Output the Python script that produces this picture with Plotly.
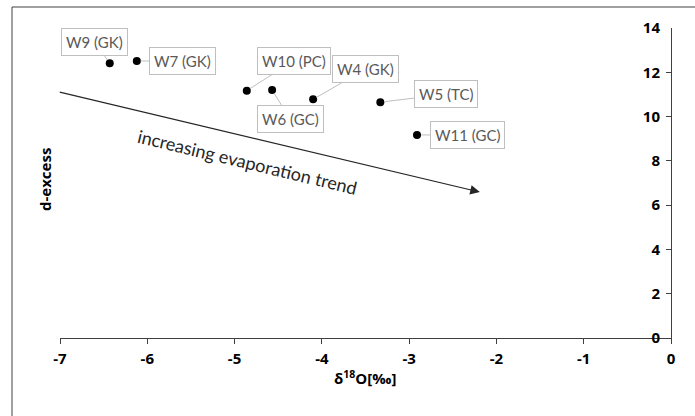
import plotly.graph_objects as go

# ---- data ----
labels = ["W9 (GK)", "W7 (GK)", "W10 (PC)", "W6 (GC)", "W4 (GK)", "W5 (TC)", "W11 (GC)"]
d18O = [-6.43, -6.12, -4.86, -4.57, -4.10, -3.33, -2.91]
dexcess = [12.41, 12.51, 11.17, 11.20, 10.78, 10.65, 9.17]
x_ticks = [-7, -6, -5, -4, -3, -2, -1, 0]
y_ticks = [0, 2, 4, 6, 8, 10, 12, 14]
trend_start = (-7.02, 11.12)
trend_end = (-2.19, 6.59)
trend_text = "increasing evaporation trend"

# label box offsets (pixels) relative to the points
offsets = {
    "W9 (GK)": (-15, -21),
    "W7 (GK)": (46, 0),
    "W10 (PC)": (47, -30),
    "W6 (GC)": (18, 29),
    "W4 (GK)": (52, -30),
    "W5 (TC)": (66, -8),
    "W11 (GC)": (50, 0),
}

W, H = 695, 416
L, R, T, B = 60, 24, 28, 78
px0, px1 = L, W - R
py0, py1 = T, H - B

def paper_x(px):
    return (px - px0) / (px1 - px0)

def paper_y(py):
    return (py1 - py) / (py1 - py0)

FONT = "Lato"
BFONT = "Open Sans"

fig = go.Figure()
fig.add_trace(go.Scatter(
    x=d18O, y=dexcess, mode="markers",
    marker=dict(color="black", size=8),
    showlegend=False, hoverinfo="skip",
))

annotations = []
for lab, xv, yv in zip(labels, d18O, dexcess):
    ax, ay = offsets[lab]
    annotations.append(dict(
        x=xv, y=yv, xref="x", yref="y", text=lab, showarrow=True,
        ax=ax, ay=ay, arrowhead=0, arrowwidth=1, arrowcolor="#BFBFBF",
        standoff=4, font=dict(family=FONT, size=15, color="#595959"),
        bgcolor="white", bordercolor="#BFBFBF", borderwidth=1, borderpad=4,
    ))

# trend arrow
annotations.append(dict(
    x=trend_end[0], y=trend_end[1], ax=trend_start[0], ay=trend_start[1],
    xref="x", yref="y", axref="x", ayref="y", text=" ", showarrow=True,
    arrowhead=2, arrowsize=1.6, arrowwidth=1.2, arrowcolor="#262626",
    font=dict(size=1),
))
annotations.append(dict(
    x=-4.85, y=7.95, xref="x", yref="y", text=trend_text, showarrow=False,
    textangle=13.5, font=dict(family=FONT, size=18, color="#262626"),
))

# axis titles
annotations.append(dict(
    x=paper_x(365), y=paper_y(378), xref="paper", yref="paper",
    xanchor="center", yanchor="middle",
    text="<b>δ<sup>18</sup>O[‰]</b>", showarrow=False,
    font=dict(family=BFONT, size=15, color="black"),
))
annotations.append(dict(
    x=paper_x(45), y=paper_y(180), xref="paper", yref="paper",
    xanchor="center", yanchor="middle",
    text="<b>d-excess</b>", showarrow=False, textangle=-90,
    font=dict(family=BFONT, size=15, color="black"),
))

shapes = [dict(
    type="rect", xref="paper", yref="paper",
    x0=paper_x(12), x1=paper_x(720), y0=paper_y(440), y1=paper_y(7),
    line=dict(color="#404040", width=1), fillcolor="rgba(0,0,0,0)", layer="below",
)]

fig.update_layout(
    width=W, height=H,
    margin=dict(l=L, r=R, t=T, b=B),
    paper_bgcolor="white", plot_bgcolor="white",
    annotations=annotations, shapes=shapes,
    xaxis=dict(
        range=[-7, 0], tickvals=x_ticks, ticktext=[f"<b>{v}</b>" for v in x_ticks],
        ticks="outside", ticklen=5,
        tickcolor="#404040", showline=True, linecolor="#404040", linewidth=1,
        showgrid=False, zeroline=False, ticklabelstandoff=2,
        tickfont=dict(family=BFONT, size=15, color="black"),
    ),
    yaxis=dict(
        range=[0, 14], tickvals=y_ticks, ticktext=[f"<b>{v}</b>" for v in y_ticks],
        side="right", ticks="inside",
        ticklen=5, tickcolor="#404040", ticklabelposition="inside",
        ticklabeloverflow="allow", ticklabelstandoff=6, showline=True,
        linecolor="#404040", linewidth=1, showgrid=False, zeroline=False,
        tickfont=dict(family=BFONT, size=15, color="black"),
    ),
)

fig.write_html("out.html")
